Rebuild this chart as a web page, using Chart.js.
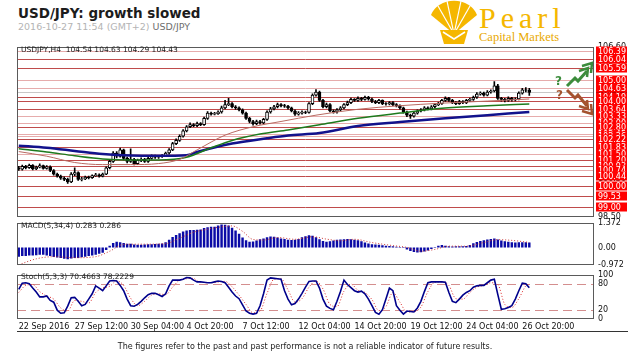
<!DOCTYPE html>
<html>
<head>
<meta charset="utf-8">
<script src="https://cdn.jsdelivr.net/npm/chart.js@4.4.1/dist/chart.umd.min.js"></script>
<style>
  body { margin: 0; width: 640px; height: 360px; background: #fff; position: relative; overflow: hidden; font-family: "DejaVu Sans", sans-serif; }
  .abs { position: absolute; white-space: pre; line-height: 1; }
  canvas { position: absolute; left: 0; }
</style>
</head>
<body>
<div class="abs" style="left:18px;top:7px;font-size:13.5px;font-weight:bold;color:#1c1c1c">USD/JPY: growth slowed</div>
<div class="abs" style="left:18px;top:22px;font-size:9.5px;color:#b4b4b4">2016-10-27 11:54 (GMT+2) <span style="color:#6e6e6e">USD/JPY</span></div>

<svg class="abs" style="left:428px;top:0" width="52" height="46">
  <path d="M26 34 L3 15 A24 20 0 0 1 49 15 Z" fill="#f5b700"/>
  <g stroke="#fff" stroke-width="1.2">
    <line x1="26" y1="34" x2="10" y2="6"/><line x1="26" y1="34" x2="19" y2="1"/>
    <line x1="26" y1="34" x2="33" y2="1"/><line x1="26" y1="34" x2="42" y2="6"/>
  </g>
  <path d="M12 30 L40 30 L36 44 L16 44 Z" fill="#f5b700"/>
  <path d="M15 32 L26 39 L37 32" stroke="#fff" stroke-width="1.5" fill="none"/>
</svg>
<div class="abs" style="left:479px;top:3px;font-family:'Liberation Serif',serif;font-size:30px;letter-spacing:5px;color:#f5b700">Pearl</div>
<div class="abs" style="left:479px;top:31px;font-family:'Liberation Serif',serif;font-size:12.5px;color:#e9a900">Capital Markets</div>

<canvas id="main" width="640" height="188" style="top:38px"></canvas>
<canvas id="macd" width="640" height="60" style="top:214px"></canvas>
<canvas id="stoch" width="640" height="75" style="top:266px"></canvas>

<div class="abs" style="left:21px;top:46px;font-size:7.5px;color:#222">USDJPY,H4  104.54 104.63 104.29 104.43</div>
<div class="abs" style="left:21px;top:222px;font-size:7.5px;color:#222">MACD(5,34,4) 0.283 0.286</div>
<div class="abs" style="left:21px;top:273px;font-size:7.5px;color:#222">Stoch(5,3,3) 70.4663 78.2229</div>

<svg class="abs" style="left:540px;top:55px" width="60" height="62">
  <text x="15" y="30" font-family="DejaVu Sans" font-weight="bold" font-size="12" fill="#3c8c3c">?</text>
  <polyline points="27,31 35,23 38,26 47,16" stroke="#3c8c3c" stroke-width="3" fill="none"/>
  <polyline points="39,16 48,13 47,22" stroke="#3c8c3c" stroke-width="2.5" fill="none"/>
  <polyline points="42,11 52,8 51,18" stroke="#3c8c3c" stroke-width="2.5" fill="none"/>
  <text x="16" y="44" font-family="DejaVu Sans" font-weight="bold" font-size="12" fill="#a4532f">?</text>
  <polyline points="27,35 35,43 38,40 47,51" stroke="#a4532f" stroke-width="3" fill="none"/>
  <polyline points="39,51 48,54 47,45" stroke="#a4532f" stroke-width="2.5" fill="none"/>
  <polyline points="42,56 52,59 51,49" stroke="#a4532f" stroke-width="2.5" fill="none"/>
</svg>

<div class="abs" style="left:17px;top:331px;width:611px;height:1px;background:#333"></div>
<div class="abs" style="left:0;top:343px;width:610px;text-align:center;font-size:8px;color:#222">The figures refer to the past and past performance is not a reliable indicator of future results.</div>

<script>
// H4 bars, 22 Sep 2016 .. 27 Oct 2016
const totalSlots = 165;
const tickEvery = 16;
const tickLabels = ["22 Sep 2016", "27 Sep 12:00", "30 Sep 04:00", "4 Oct 20:00", "7 Oct 12:00",
  "12 Oct 04:00", "14 Oct 20:00", "19 Oct 12:00", "24 Oct 04:00", "26 Oct 20:00"];

const open = [
  100.85,100.78,100.92,100.85,100.96,100.80,100.88,100.95,100.82,100.90,
  100.72,100.55,100.45,100.35,100.30,100.18,100.55,100.62,100.30,100.32,
  100.40,100.38,100.48,100.52,100.45,100.55,100.85,101.15,101.55,101.40,
  101.70,101.30,101.15,101.25,101.05,101.20,101.25,101.15,101.30,101.40,
  101.35,101.38,101.42,101.55,101.70,102.00,102.15,102.35,102.60,102.80,
  102.90,102.85,102.95,102.90,103.20,103.45,103.40,103.42,103.50,103.70,
  103.85,103.90,103.75,103.70,103.60,103.45,103.20,103.05,102.95,103.05,
  102.98,103.15,103.50,103.65,103.75,103.85,103.80,103.78,103.70,103.55,
  103.40,103.45,103.50,103.48,103.90,104.30,104.45,104.05,103.75,103.85,
  103.55,103.50,103.60,103.70,103.85,103.95,104.10,104.05,104.15,104.10,
  104.20,104.12,104.00,103.95,104.05,103.90,103.88,103.95,103.85,103.80,
  103.70,103.50,103.35,103.30,103.45,103.55,103.60,103.70,103.65,103.75,
  103.85,103.90,104.05,104.15,104.05,103.95,103.90,104.00,103.95,104.05,
  104.10,104.20,104.35,104.40,104.30,104.45,104.50,104.75,104.15,104.10,
  104.05,104.15,104.08,104.12,104.40,104.55,104.54
];
const high = [
  100.92,100.98,100.97,101.02,101.00,100.93,101.04,100.98,100.95,100.94,
  100.76,100.60,100.50,100.42,100.36,100.62,100.85,100.66,100.40,100.46,
  100.45,100.52,100.58,100.56,100.60,100.90,101.22,101.62,101.62,101.78,
  101.74,101.36,101.75,101.30,101.26,101.32,101.30,101.36,101.46,101.45,
  101.44,101.48,101.60,101.76,102.06,102.22,102.42,102.66,102.86,102.98,
  102.95,103.02,103.00,103.26,103.52,103.50,103.48,103.56,103.78,104.05,
  104.15,103.95,103.80,103.75,103.65,103.50,103.25,103.10,103.12,103.10,
  103.20,103.56,103.72,103.82,103.92,103.90,103.86,103.82,103.74,103.60,
  103.52,103.56,103.55,103.95,104.36,104.57,104.50,104.10,103.92,103.90,
  103.60,103.66,103.76,103.90,104.02,104.16,104.14,104.22,104.20,104.26,
  104.25,104.16,104.05,104.10,104.08,103.95,104.00,104.00,103.90,103.84,
  103.74,103.55,103.40,103.50,103.60,103.66,103.76,103.75,103.80,103.90,
  103.96,104.10,104.22,104.20,104.10,104.00,104.06,104.04,104.10,104.16,
  104.26,104.42,104.46,104.45,104.52,104.56,104.95,104.82,104.20,104.15,
  104.22,104.20,104.18,104.46,104.62,104.66,104.63
];
const low = [
  100.72,100.74,100.80,100.82,100.75,100.76,100.84,100.78,100.78,100.66,
  100.50,100.40,100.30,100.24,100.10,100.14,100.48,100.25,100.22,100.28,
  100.32,100.34,100.44,100.40,100.42,100.52,100.80,101.10,101.32,101.35,
  101.22,101.08,101.10,100.98,101.00,101.14,101.10,101.10,101.26,101.30,
  101.30,101.34,101.38,101.50,101.66,101.95,102.10,102.30,102.55,102.75,
  102.80,102.80,102.85,102.86,103.15,103.35,103.36,103.38,103.45,103.65,
  103.80,103.70,103.62,103.55,103.40,103.15,102.98,102.88,102.90,102.92,
  102.94,103.10,103.45,103.60,103.70,103.74,103.72,103.64,103.50,103.34,
  103.35,103.40,103.42,103.44,103.85,104.25,104.00,103.70,103.70,103.50,
  103.44,103.45,103.55,103.65,103.80,103.90,104.00,104.00,104.04,104.06,
  104.06,103.95,103.90,103.90,103.85,103.82,103.84,103.80,103.74,103.64,
  103.45,103.28,103.20,103.25,103.40,103.50,103.55,103.60,103.60,103.70,
  103.80,103.86,104.00,104.00,103.90,103.85,103.86,103.90,103.90,104.00,
  104.05,104.15,104.30,104.25,104.26,104.40,104.45,104.10,104.02,103.98,
  104.00,104.02,104.03,104.08,104.35,104.46,104.29
];
const close = [
  100.78,100.92,100.85,100.96,100.80,100.88,100.95,100.82,100.90,100.72,
  100.55,100.45,100.35,100.30,100.18,100.55,100.62,100.30,100.32,100.40,
  100.38,100.48,100.52,100.45,100.55,100.85,101.15,101.55,101.40,101.70,
  101.30,101.15,101.25,101.05,101.20,101.25,101.15,101.30,101.40,101.35,
  101.38,101.42,101.55,101.70,102.00,102.15,102.35,102.60,102.80,102.90,
  102.85,102.95,102.90,103.20,103.45,103.40,103.42,103.50,103.70,103.85,
  103.90,103.75,103.70,103.60,103.45,103.20,103.05,102.95,103.05,102.98,
  103.15,103.50,103.65,103.75,103.85,103.80,103.78,103.70,103.55,103.40,
  103.45,103.50,103.48,103.90,104.30,104.45,104.05,103.75,103.85,103.55,
  103.50,103.60,103.70,103.85,103.95,104.10,104.05,104.15,104.10,104.20,
  104.12,104.00,103.95,104.05,103.90,103.88,103.95,103.85,103.80,103.70,
  103.50,103.35,103.30,103.45,103.55,103.60,103.70,103.65,103.75,103.85,
  103.90,104.05,104.15,104.05,103.95,103.90,104.00,103.95,104.05,104.10,
  104.20,104.35,104.40,104.30,104.45,104.50,104.75,104.15,104.10,104.05,
  104.15,104.08,104.12,104.40,104.55,104.54,104.43
];

// moving averages, read at [bar, price]
const fastMa = [[0,101.62],[8,101.40],[16,101.10],[24,101.00],[32,101.00],[40,101.05],[46,101.25],[51,101.70],
  [59,102.40],[67,102.80],[75,103.05],[85,103.35],[97,103.63],[109,103.80],[121,103.92],[134,104.02],[146,104.12]];
const midMa = [[0,101.75],[8,101.60],[16,101.42],[24,101.27],[32,101.22],[40,101.22],[48,101.35],[55,101.80],
  [61,102.15],[69,102.45],[77,102.65],[86,102.90],[97,103.20],[109,103.45],[121,103.68],[134,103.80],[146,103.88]];
const slowMa = [[0,101.90],[8,101.80],[16,101.65],[24,101.50],[32,101.43],[40,101.42],[48,101.45],[51,101.60],
  [61,102.00],[71,102.25],[77,102.38],[86,102.50],[97,102.83],[109,103.02],[122,103.20],[134,103.35],[146,103.50]];

const macdHist = [
  -0.50,-0.47,-0.46,-0.43,-0.43,-0.42,-0.40,-0.40,-0.43,-0.47,
  -0.52,-0.55,-0.58,-0.61,-0.64,-0.60,-0.57,-0.58,-0.53,-0.50,
  -0.47,-0.43,-0.39,-0.34,-0.28,-0.13,0.10,0.26,0.33,0.30,
  0.26,0.22,0.21,0.17,0.16,0.16,0.17,0.18,0.19,0.20,
  0.21,0.23,0.30,0.44,0.59,0.70,0.80,0.89,0.95,0.98,
  0.98,0.99,1.00,1.08,1.13,1.15,1.16,1.22,1.28,1.27,
  1.22,1.10,0.94,0.76,0.56,0.41,0.32,0.34,0.40,0.46,
  0.51,0.57,0.62,0.60,0.56,0.51,0.47,0.44,0.42,0.44,
  0.48,0.57,0.63,0.68,0.66,0.57,0.46,0.37,0.32,0.35,
  0.39,0.43,0.45,0.46,0.47,0.46,0.44,0.41,0.35,0.28,
  0.23,0.19,0.17,0.16,0.13,0.10,0.09,0.07,0.05,0.03,
  -0.02,-0.10,-0.19,-0.24,-0.27,-0.26,-0.22,-0.16,-0.07,0.03,
  0.10,0.14,0.11,0.07,0.06,0.07,0.07,0.07,0.09,0.15,
  0.24,0.31,0.36,0.41,0.45,0.48,0.50,0.45,0.39,0.35,
  0.32,0.30,0.28,0.29,0.30,0.29,0.283
];
const macdSignal = [[0,-0.95],[5,-0.62],[10,-0.50],[16,-0.56],[22,-0.50],[26,-0.20],[30,0.18],[36,0.19],
  [42,0.22],[46,0.52],[50,0.85],[54,1.02],[58,1.15],[61,1.20],[64,0.90],[67,0.45],[70,0.42],[74,0.56],
  [79,0.46],[84,0.60],[88,0.47],[92,0.38],[96,0.46],[101,0.28],[107,0.11],[111,0.01],[115,-0.20],
  [119,-0.10],[123,0.08],[128,0.08],[133,0.28],[137,0.44],[141,0.40],[146,0.286]];

const stochMain = [
  67,81,82,80,70,61,50,50,52,42,
  38,20,13,14,29,48,49,40,30,33,
  45,57,75,70,64,75,86,87,86,76,
  64,45,30,29,33,40,48,55,58,58,
  55,51,57,75,88,88,88,90,94,93,
  88,84,84,83,82,82,84,86,85,82,
  72,61,52,46,32,18,13,11,13,30,
  57,88,93,92,91,90,64,45,32,35,
  45,58,72,85,86,86,70,45,29,24,
  21,40,62,88,78,71,64,61,63,57,
  45,30,15,11,21,45,70,64,30,20,
  11,18,17,16,25,40,62,82,84,84,
  84,84,83,60,40,37,45,54,60,64,
  72,75,76,76,82,88,90,55,22,23,
  26,30,45,64,81,80,70.47
];
const stochSignal = [[0,60],[2,76],[4,78],[6,62],[8,52],[10,45],[12,25],[14,18],[16,42],[18,40],[20,36],
  [22,60],[24,70],[26,74],[28,86],[30,76],[32,47],[34,30],[36,40],[38,54],[40,57],[42,55],[44,72],
  [46,88],[48,91],[50,92],[51,86],[55,82],[59,85],[61,73],[63,54],[65,33],[67,14],[69,18],[71,58],
  [73,90],[75,91],[77,66],[79,38],[81,46],[83,72],[85,86],[87,68],[89,33],[91,28],[93,63],[95,79],
  [97,65],[99,60],[101,44],[103,19],[105,28],[107,60],[109,38],[111,16],[113,17],[115,27],[117,62],
  [119,83],[121,84],[123,76],[125,46],[127,45],[129,60],[131,72],[133,76],[135,82],[137,78],[139,33],
  [141,26],[143,46],[145,75],[146,78.22]];

// support / resistance levels on the price panel
const levels = [106.39, 106.04, 105.59, 105.00, 104.63, 104.19, 104.00, 103.64, 103.33, 103.00, 102.80,
  102.45, 102.36, 102.22, 101.83, 101.50, 101.20, 100.93, 100.74, 100.44, 100.00, 99.53, 99.00];
const levelTones = ["l","d","d","l","l","d","d","d","l","l","d","l","l","d","d","l","d","d","l","d","d","d","d"];
const lastPrice = 104.43;
const priceMin = 98.5, priceMax = 106.6, priceStep = 0.9;
const macdTicks = [-0.972, 0, 1.372];
const macdTickText = ["-0.972", "0.00", "1.372"];
const stochTicks = [0, 20, 80, 100];
const stochBands = [20, 80];

const slots = Array.from({ length: totalSlots }, (_, i) => i);
const pts = arr => arr.map(([x, y]) => ({ x, y }));
const font = { family: "DejaVu Sans", size: 8 };

const frame = {
  id: "frame",
  afterDraw(chart) {
    const { ctx, chartArea: a } = chart;
    ctx.save();
    ctx.strokeStyle = "#5a5a5a";
    ctx.lineWidth = 1;
    ctx.strokeRect(Math.round(a.left) + 0.5, Math.round(a.top) + 0.5,
      Math.round(a.right - a.left) - 1, Math.round(a.bottom - a.top) - 1);
    ctx.restore();
  }
};

const levelLines = {
  id: "levelLines",
  beforeDatasetsDraw(chart) {
    const { ctx, chartArea: a, scales: { y } } = chart;
    ctx.save();
    ctx.lineWidth = 1;
    levels.forEach((v, k) => {
      const py = Math.round(y.getPixelForValue(v)) + 0.5;
      ctx.strokeStyle = levelTones[k] === "d" ? "#bf4b4b" : "#e6acac";
      ctx.beginPath(); ctx.moveTo(a.left, py); ctx.lineTo(a.right, py); ctx.stroke();
    });
    const pl = Math.round(y.getPixelForValue(lastPrice)) + 0.5;
    ctx.strokeStyle = "#c8c8c8";
    ctx.beginPath(); ctx.moveTo(a.left, pl); ctx.lineTo(a.right, pl); ctx.stroke();
    ctx.restore();
  },
  afterDraw(chart) {
    const { ctx, chartArea: a, scales: { y } } = chart;
    ctx.save();
    ctx.font = '8px "DejaVu Sans"';
    ctx.textBaseline = "middle";
    const box = (v, fill) => {
      const py = Math.round(y.getPixelForValue(v));
      ctx.fillStyle = fill;
      ctx.fillRect(a.right + 2, py - 4.5, 31, 9);
      ctx.fillStyle = "#fff";
      ctx.fillText(v.toFixed(2), a.right + 4, py + 0.5);
    };
    box(lastPrice, "#000");
    levels.forEach(v => box(v, "#f00"));
    ctx.restore();
  }
};

const bands = {
  id: "bands",
  beforeDatasetsDraw(chart) {
    const { ctx, chartArea: a, scales: { y } } = chart;
    ctx.save();
    ctx.strokeStyle = "#d48e8e";
    ctx.lineWidth = 1.2;
    ctx.setLineDash([9, 5]);
    stochBands.forEach(v => {
      const py = Math.round(y.getPixelForValue(v)) + 0.5;
      ctx.beginPath(); ctx.moveTo(a.left, py); ctx.lineTo(a.right, py); ctx.stroke();
    });
    ctx.restore();
  }
};

function rightAxis(extra) {
  return Object.assign({
    position: "right",
    grid: { display: false, drawTicks: false },
    border: { display: false },
    afterFit: s => { s.width = 46; },
  }, extra);
}

const hiddenX = { offset: true, display: false };
const common = { responsive: false, animation: false, events: [],
  plugins: { legend: { display: false }, tooltip: { enabled: false } } };

new Chart(document.getElementById("main"), {
  type: "bar",
  data: {
    labels: slots,
    datasets: [
      { type: "line", data: pts(fastMa), borderColor: "#b86a62", borderWidth: 1, pointRadius: 0, cubicInterpolationMode: "monotone", order: 0 },
      { type: "line", data: pts(midMa), borderColor: "#1d7a1d", borderWidth: 1.5, pointRadius: 0, cubicInterpolationMode: "monotone", order: 0 },
      { type: "line", data: pts(slowMa), borderColor: "#12128c", borderWidth: 2.5, pointRadius: 0, cubicInterpolationMode: "monotone", order: 0 },
      { data: open.map((o, i) => [o, close[i]]), grouped: false, barThickness: 3, borderWidth: 1, borderSkipped: false,
        borderColor: "#000", backgroundColor: c => close[c.dataIndex] >= open[c.dataIndex] ? "#fff" : "#000", order: 1 },
      { data: low.map((l, i) => [l, high[i]]), grouped: false, barThickness: 1, backgroundColor: "#000", order: 2 },
    ]
  },
  options: Object.assign({}, common, {
    layout: { padding: { left: 17, right: 0, top: 7, bottom: 7 } },
    scales: {
      x: hiddenX,
      y: rightAxis({ min: priceMin, max: priceMax,
        ticks: { stepSize: priceStep, font, color: "#111", padding: 4, callback: v => Number(v).toFixed(2) } }),
    }
  }),
  plugins: [levelLines, frame]
});

new Chart(document.getElementById("macd"), {
  type: "bar",
  data: {
    labels: slots,
    datasets: [
      { type: "line", data: pts(macdSignal), borderColor: "#c83232", borderWidth: 1, borderDash: [1, 2], pointRadius: 0, cubicInterpolationMode: "monotone", order: 0 },
      { data: macdHist, backgroundColor: "#0a0aa6", barPercentage: 0.7, categoryPercentage: 1, order: 1 },
    ]
  },
  options: Object.assign({}, common, {
    layout: { padding: { left: 17, right: 0, top: 6, bottom: 5 } },
    scales: {
      x: hiddenX,
      y: rightAxis({ min: macdTicks[0], max: macdTicks[2],
        afterBuildTicks: s => { s.ticks = macdTicks.map(value => ({ value })); },
        ticks: { font, color: "#111", padding: 4, callback: (v, i) => macdTickText[i] } }),
    }
  }),
  plugins: [frame]
});

new Chart(document.getElementById("stoch"), {
  type: "line",
  data: {
    labels: slots,
    datasets: [
      { data: stochMain, borderColor: "#00008b", borderWidth: 1.6, pointRadius: 0, order: 0 },
      { data: pts(stochSignal), borderColor: "#dd2a2a", borderWidth: 1, borderDash: [1, 2], pointRadius: 0, cubicInterpolationMode: "monotone", order: 1 },
    ]
  },
  options: Object.assign({}, common, {
    layout: { padding: { left: 17, right: 0, top: 5, bottom: 5 } },
    scales: {
      x: {
        offset: true,
        grid: { display: false, drawTicks: false },
        border: { display: false },
        afterFit: s => { s.height = 17; },
        afterBuildTicks: s => { s.ticks = tickLabels.map((_, k) => ({ value: k * tickEvery })); },
        ticks: { font, color: "#111", padding: 3, align: "start", autoSkip: false, maxRotation: 0, minRotation: 0,
          callback: v => tickLabels[v / tickEvery] }
      },
      y: rightAxis({ min: 0, max: 100,
        afterBuildTicks: s => { s.ticks = stochTicks.map(value => ({ value })); },
        ticks: { font, color: "#111", padding: 4, callback: v => String(v) } }),
    }
  }),
  plugins: [bands, frame]
});
</script>
</body>
</html>
